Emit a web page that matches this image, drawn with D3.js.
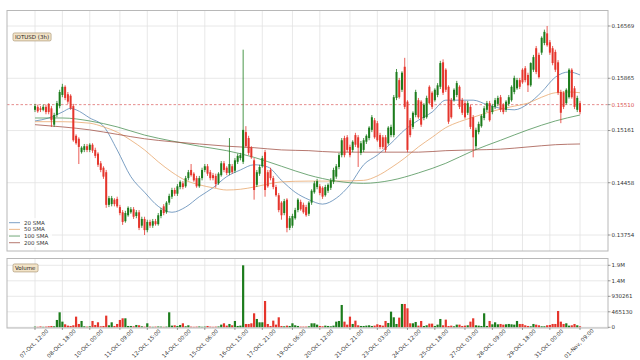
<!DOCTYPE html>
<html><head><meta charset="utf-8">
<script src="https://cdn.jsdelivr.net/npm/d3@7"></script>
<style>body{margin:0;background:#fff}svg{display:block}text{font-family:"DejaVu Sans",sans-serif}</style>
</head><body><svg id="c" width="640" height="360"></svg>
<script>
const openP = [
.1544,.1548,.1546,.1544,.1548,.1552,.1546,.1524,.1537,.1549,
.1564,.1575,.1565,.1563,.1549,.1509,.1505,.1487,.1490,.1495,
.1490,.1497,.1490,.1485,.1472,.1466,.1460,.1416,.1417,.1423,
.1424,.1413,.1406,.1394,.1402,.1406,.1410,.1401,.1406,.1388,
.1397,.1382,.1393,.1388,.1394,.1390,.1401,.1414,.1406,.1419,
.1427,.1436,.1431,.1440,.1445,.1441,.1452,.1463,.1458,.1452,
.1441,.1452,.1463,.1468,.1460,.1456,.1455,.1445,.1456,.1472,
.1466,.1459,.1468,.1462,.1474,.1479,.1474,.1514,.1506,.1493,
.1476,.1443,.1458,.1468,.1487,.1460,.1463,.1452,.1440,.1429,
.1419,.1405,.1423,.1385,.1388,.1398,.1409,.1420,.1416,.1413,
.1404,.1419,.1433,.1440,.1441,.1439,.1429,.1435,.1439,.1447,
.1454,.1467,.1483,.1506,.1507,.1494,.1490,.1510,.1507,.1486,
.1490,.1501,.1506,.1517,.1530,.1526,.1510,.1507,.1507,.1499,
.1510,.1510,.1560,.1584,.1571,.1602,.1555,.1530,.1521,.1537,
.1557,.1555,.1533,.1534,.1575,.1567,.1557,.1564,.1575,.1608,
.1598,.1575,.1557,.1557,.1564,.1575,.1557,.1553,.1540,.1548,
.1534,.1495,.1514,.1522,.1533,.1544,.1553,.1541,.1548,.1552,
.1561,.1551,.1544,.1552,.1557,.1568,.1573,.1584,.1598,.1600,
.1591,.1577,.1598,.1627,.1618,.1621,.1634,.1647,.1635,.1627,
.1622,.1608,.1568,.1567,.1553,.1561,.1598,.1573,.1544,.1553];
const highP = [
.1552,.1551,.1549,.1551,.1551,.1553,.1549,.1540,.1556,.1571,
.1579,.1577,.1568,.1565,.1552,.1511,.1507,.1495,.1498,.1498,
.1499,.1499,.1493,.1487,.1475,.1468,.1463,.1428,.1428,.1425,
.1427,.1416,.1409,.1408,.1414,.1413,.1413,.1409,.1409,.1400,
.1400,.1396,.1396,.1397,.1397,.1405,.1412,.1417,.1421,.1431,
.1439,.1439,.1444,.1449,.1448,.1455,.1463,.1471,.1460,.1455,
.1455,.1466,.1471,.1471,.1463,.1459,.1458,.1460,.1475,.1475,
.1468,.1506,.1471,.1479,.1485,.1486,.1625,.1522,.1509,.1495,
.1479,.1463,.1470,.1482,.1490,.1463,.1466,.1455,.1443,.1432,
.1421,.1424,.1425,.1401,.1404,.1412,.1425,.1423,.1419,.1416,
.1421,.1437,.1448,.1451,.1444,.1441,.1443,.1445,.1452,.1466,
.1471,.1486,.1506,.1509,.1510,.1497,.1503,.1513,.1510,.1502,
.1506,.1511,.1522,.1537,.1533,.1529,.1513,.1510,.1510,.1522,
.1524,.1564,.1599,.1587,.1596,.1614,.1557,.1533,.1542,.1571,
.1560,.1557,.1553,.1563,.1577,.1569,.1573,.1580,.1610,.1612,
.1600,.1577,.1560,.1573,.1583,.1577,.1560,.1556,.1556,.1551,
.1537,.1520,.1528,.1538,.1549,.1556,.1556,.1552,.1560,.1563,
.1564,.1553,.1557,.1564,.1577,.1590,.1587,.1587,.1600,.1603,
.1594,.1608,.1618,.1630,.1621,.1643,.1652,.16569,.1638,.1630,
.1625,.1611,.1571,.1569,.1573,.1600,.1600,.1576,.1563,.1556];
const lowP = [
.1541,.1540,.1541,.1542,.1538,.1538,.1521,.1521,.1534,.1546,
.1561,.1557,.1552,.1544,.1501,.1497,.1471,.1485,.1487,.1487,
.1487,.1486,.1479,.1467,.1460,.1451,.1412,.1413,.1414,.1414,
.1412,.1402,.1389,.1392,.1400,.1404,.1397,.1398,.1382,.1385,
.13754,.1379,.1385,.1385,.1388,.1388,.1398,.1402,.1404,.1416,
.1424,.1428,.1428,.1437,.1437,.1439,.1449,.1454,.1447,.1439,
.1439,.1449,.1460,.1455,.1449,.1449,.1439,.1443,.1454,.1460,
.1456,.1456,.1458,.1459,.1471,.1476,.1471,.1493,.1483,.1478,
.1423,.1440,.1455,.1466,.1427,.1439,.1449,.1437,.1427,.1406,
.1396,.1402,.1379,.1382,.1385,.1396,.1406,.1408,.1404,.1400,
.1401,.1416,.1431,.1437,.1429,.1424,.1427,.1432,.1436,.1444,
.1451,.1464,.1480,.1480,.1487,.1480,.1487,.1494,.1467,.1483,
.1487,.1498,.1503,.1514,.1505,.1501,.1491,.1491,.1487,.1497,
.1507,.1507,.1557,.1559,.1568,.1545,.1487,.1507,.1518,.1534,
.1532,.1521,.1530,.1532,.1551,.1545,.1555,.1561,.1572,.1564,
.1568,.1525,.1532,.1555,.1561,.1545,.1537,.1532,.1537,.1518,
.1480,.1490,.1511,.1520,.1530,.1541,.1528,.1538,.1545,.1549,
.1541,.1538,.1541,.1549,.1555,.1565,.1571,.1572,.1579,.1581,
.1568,.1575,.1595,.1592,.1586,.1618,.1631,.1629,.1618,.1604,
.1595,.1564,.1526,.1545,.1551,.1559,.1559,.1545,.1541,.1538];
const closeP = [
.1549,.1542,.1544,.1548,.1541,.1541,.1530,.1537,.1553,.1568,
.1575,.1560,.1555,.1546,.1503,.1499,.1494,.1493,.1495,.1490,
.1497,.1489,.1482,.1470,.1463,.1454,.1416,.1425,.1425,.1417,
.1414,.1405,.1393,.1405,.1412,.1410,.1400,.1406,.1385,.1397,
.1382,.1393,.1388,.1394,.1390,.1402,.1409,.1405,.1419,.1428,
.1436,.1431,.1441,.1447,.1440,.1452,.1460,.1456,.1449,.1441,
.1452,.1463,.1468,.1458,.1452,.1452,.1444,.1458,.1472,.1463,
.1459,.1471,.1460,.1476,.1482,.1483,.1517,.1495,.1486,.1480,
.1436,.1460,.1467,.1479,.1436,.1441,.1452,.1440,.1429,.1409,
.1402,.1421,.1385,.1398,.1401,.1409,.1423,.1410,.1406,.1402,
.1419,.1435,.1445,.1448,.1432,.1427,.1440,.1443,.1449,.1463,
.1468,.1483,.1503,.1483,.1490,.1483,.1501,.1497,.1493,.1499,
.1503,.1509,.1520,.1534,.1507,.1503,.1494,.1494,.1490,.1520,
.1521,.1561,.1595,.1561,.1594,.1548,.1490,.1510,.1540,.1568,
.1534,.1524,.1551,.1560,.1553,.1548,.1571,.1577,.1607,.1567,
.1571,.1528,.1534,.1571,.1580,.1548,.1540,.1534,.1553,.1521,
.1507,.1517,.1525,.1536,.1546,.1553,.1530,.1549,.1557,.1560,
.1544,.1541,.1555,.1561,.1575,.1587,.1584,.1575,.1581,.1584,
.1577,.1607,.1615,.1595,.1588,.1641,.1649,.1631,.1621,.1607,
.1598,.1567,.1540,.1548,.1571,.1598,.1561,.1548,.1560,.1541];
const volume = [
20000,15000,25000,15000,20000,30000,40000,30000,220000,450000,
170000,90000,50000,40000,60000,320000,100000,190000,30000,20000,
30000,190000,70000,150000,30000,40000,350000,60000,150000,40000,
100000,220000,270000,270000,40000,40000,30000,70000,60000,30000,
20000,120000,20000,15000,20000,25000,20000,15000,20000,450000,
50000,60000,40000,70000,120000,30000,60000,20000,15000,20000,
25000,15000,20000,40000,20000,15000,20000,25000,80000,120000,
50000,100000,60000,190000,40000,50000,1860522,100000,100000,120000,
420000,250000,150000,150000,790000,100000,40000,200000,80000,300000,
40000,30000,50000,40000,120000,60000,40000,20000,20000,20000,
30000,120000,120000,80000,40000,30000,50000,40000,30000,50000,
170000,190000,670000,170000,80000,320000,100000,200000,60000,40000,
40000,50000,60000,40000,50000,90000,70000,50000,190000,130000,
470000,300000,100000,290000,700000,700000,570000,120000,120000,160000,
50000,190000,40000,60000,110000,110000,40000,80000,250000,60000,
230000,40000,50000,30000,80000,80000,40000,50000,60000,170000,
270000,60000,50000,40000,420000,40000,190000,90000,150000,90000,
100000,80000,90000,100000,90000,80000,190000,100000,100000,60000,
40000,30000,100000,80000,60000,30000,30000,60000,70000,100000,
100000,490000,170000,100000,120000,50000,60000,100000,60000,30000];

const sma20Idx = [0,5,10,13,15,20,25,30,35,40,45,50,55,60,65,70,75,80,85,90,95,100,105,110,115,120,125,130,135,140,145,150,155,160,165,170,175,180,185,190,195,199];
const sma20Val = [.1529,.1533,.1541,.1546,.1544,.1533,.1522,.1490,.1454,.1433,.1414,.1406,.1413,.1427,.1439,.1454,.1463,.1470,.1467,.1449,.1433,.1423,.1417,.1425,.1443,.1470,.1483,.1499,.1517,.1530,.1541,.1557,.1557,.1557,.1551,.1546,.1544,.1552,.1568,.1588,.1595,.1591];
const sma50Idx = [0,10,20,25,30,35,40,45,50,55,60,65,70,75,80,85,90,100,110,120,125,130,135,140,145,150,155,160,165,170,175,180,185,190,195,199];
const sma50Val = [.1528,.1528,.1526,.1521,.1514,.1503,.1490,.1474,.1460,.1449,.1443,.1439,.1436,.1437,.1440,.1444,.1447,.1448,.1448,.1449,.1455,.1466,.1479,.1494,.1507,.1520,.1528,.1534,.1540,.1545,.1549,.1553,.1561,.1567,.1568,.1567];
const sma100Idx = [0,10,20,30,40,50,60,70,80,90,100,110,120,130,140,150,160,170,180,190,199];
const sma100Val = [.1533,.1533,.1529,.1521,.1510,.1502,.1495,.1489,.1480,.1468,.1456,.1448,.1445,.1449,.1459,.1472,.1489,.1503,.1517,.1529,.1537];
const sma200Idx = [0,10,20,30,40,50,60,70,80,90,100,110,120,130,140,150,160,170,180,190,199];
const sma200Val = [.1524,.1521,.1517,.1511,.1505,.1501,.1498,.1495,.1493,.1490,.1489,.1487,.1487,.1487,.1487,.1489,.1490,.1491,.1494,.1497,.1498];

const smaNames = ["20 SMA","50 SMA","100 SMA","200 SMA"];
const tickIdx = [0,10,20,31,41,52,62,73,83,94,104,115,125,136,146,157,167,178,188,199];
const tickLabels = ["07-Oct, 12:00","08-Oct, 18:00","10-Oct, 00:00","11-Oct, 09:00","12-Oct, 15:00","14-Oct, 00:00","15-Oct, 06:00","16-Oct, 15:00","17-Oct, 21:00","19-Oct, 06:00","20-Oct, 12:00","21-Oct, 21:00","23-Oct, 03:00","24-Oct, 12:00","25-Oct, 18:00","27-Oct, 03:00","28-Oct, 09:00","29-Oct, 18:00","31-Oct, 00:00","01-Nov, 09:00"];
const priceTicks = [0.13754,0.14458,0.15161,0.15865,0.16569];
const lastPrice = 0.15510;
const volTicks = [0,465130,930261,1395391,1860522];
const volTickLabels = ["0","465130","930261","1.4M","1.9M"];
const title = "IOTUSD (3h)";

const svg = d3.select("#c");
const L = 7, R = 608, mT = 10.5, mB = 251, vT = 258.5, vB = 328;
const UP = "#1c7c1c", DN = "#e5352c";
const smaColors = ["#5b88b5","#e9a86e","#4f9358","#a3564a"];

const x = d3.scaleLinear().domain([0,199]).range([35,580]);
const y = d3.scaleLinear().domain([0.13754,0.16569]).range([235,26]);
const yv = d3.scaleLinear().domain([0,1860522]).range([327.3,265.3]);

const g = svg.append("g");
function grid(top, bottom, yTicksPx) {
  g.selectAll(null).data(tickIdx).join("line")
    .attr("x1", d=>x(d)).attr("x2", d=>x(d)).attr("y1", top).attr("y2", bottom)
    .attr("stroke","#e2e2e2").attr("stroke-width",0.8);
  g.selectAll(null).data(yTicksPx).join("line")
    .attr("x1", L).attr("x2", R).attr("y1", d=>d).attr("y2", d=>d)
    .attr("stroke","#e2e2e2").attr("stroke-width",0.8);
}
grid(mT, mB, priceTicks.map(y));
grid(vT, vB, volTicks.map(yv));

svg.append("line").attr("x1",L).attr("x2",R).attr("y1",y(lastPrice)).attr("y2",y(lastPrice))
  .attr("stroke","#e07070").attr("stroke-width",0.8).attr("stroke-dasharray","2.5,2");

const smaSets = [[sma20Idx,sma20Val],[sma50Idx,sma50Val],[sma100Idx,sma100Val],[sma200Idx,sma200Val]];
const lineGen = d3.line().x(d=>x(d[0])).y(d=>y(d[1])).curve(d3.curveMonotoneX);
smaSets.forEach((s,k)=>{
  svg.append("path").datum(d3.zip(s[0],s[1])).attr("d",lineGen)
    .attr("fill","none").attr("stroke",smaColors[k]).attr("stroke-width",0.8);
});

const idx = d3.range(openP.length);
const col = i => closeP[i] >= openP[i] ? UP : DN;
svg.append("g").selectAll("line").data(idx).join("line")
  .attr("x1",i=>x(i)).attr("x2",i=>x(i)).attr("y1",i=>y(highP[i])).attr("y2",i=>y(lowP[i]))
  .attr("stroke",col).attr("stroke-width",0.8);
const bw = 2.0;
svg.append("g").selectAll("rect").data(idx).join("rect")
  .attr("x",i=>x(i)-bw/2).attr("width",bw)
  .attr("y",i=>y(Math.max(openP[i],closeP[i])))
  .attr("height",i=>Math.max(0.8, Math.abs(y(openP[i])-y(closeP[i]))))
  .attr("fill",col);

const vw = 2.2;
svg.append("g").selectAll("rect").data(idx).join("rect")
  .attr("x",i=>x(i)-vw/2).attr("width",vw)
  .attr("y",i=>yv(volume[i])).attr("height",i=>yv(0)-yv(volume[i]))
  .attr("fill",col);

[[mT,mB],[vT,vB]].forEach(([t,b])=>{
  svg.append("rect").attr("x",L).attr("y",t).attr("width",R-L).attr("height",b-t)
    .attr("fill","none").attr("stroke","#b8b8b8").attr("stroke-width",1);
});

const fs = 5.5;
function rightAxis(vals, labels, scale, color) {
  const ga = svg.append("g");
  ga.selectAll("line").data(vals).join("line")
    .attr("x1",R).attr("x2",R+2.5).attr("y1",d=>scale(d)).attr("y2",d=>scale(d))
    .attr("stroke","#555").attr("stroke-width",0.6);
  ga.selectAll("text").data(vals).join("text")
    .attr("x",R+3.5).attr("y",d=>scale(d)).attr("dy","0.35em")
    .attr("font-size",fs).attr("fill",color||"#333")
    .text((d,i)=>labels[i]);
}
rightAxis(priceTicks, priceTicks.map(d=>d.toFixed(5)), y);
rightAxis([lastPrice], [lastPrice.toFixed(5)], y, "#d9534f");
rightAxis(volTicks, volTickLabels, yv);

svg.append("g").selectAll("line").data(tickIdx).join("line")
  .attr("x1",d=>x(d)).attr("x2",d=>x(d)).attr("y1",vB).attr("y2",vB+2)
  .attr("stroke","#555").attr("stroke-width",0.6);
svg.append("g").selectAll("text").data(tickIdx).join("text")
  .attr("transform",d=>`translate(${x(d)-1},343.5) rotate(-45)`)
  .attr("text-anchor","middle").attr("dy","0.35em")
  .attr("font-size",fs).attr("fill","#333")
  .text((d,i)=>tickLabels[i]);

function tag(tx, ty, text) {
  const grp = svg.append("g");
  const r = grp.append("rect");
  const t = grp.append("text").attr("x",tx+2).attr("y",ty+4).attr("dy","0.35em")
    .attr("font-size",fs).attr("fill","#222").text(text);
  const bb = t.node().getBBox();
  r.attr("x",bb.x-2).attr("y",bb.y-1).attr("width",bb.width+4).attr("height",bb.height+2)
    .attr("rx",1.5).attr("fill","#f3e4c8").attr("stroke","#a08a66").attr("stroke-width",0.6);
}
tag(13, 33, title);
tag(13, 264, "Volume");

const lg = svg.append("g");
lg.append("rect").attr("x",8).attr("y",218).attr("width",44).attr("height",29).attr("fill","#fff").attr("opacity",0.8);
smaNames.forEach((n,k)=>{
  const yy = 222.7 + k*6.67;
  lg.append("line").attr("x1",9).attr("x2",20).attr("y1",yy).attr("y2",yy).attr("stroke",smaColors[k]).attr("stroke-width",0.8);
  lg.append("text").attr("x",24).attr("y",yy).attr("dy","0.35em").attr("font-size",fs).attr("fill","#333").text(n);
});
</script></body></html>
